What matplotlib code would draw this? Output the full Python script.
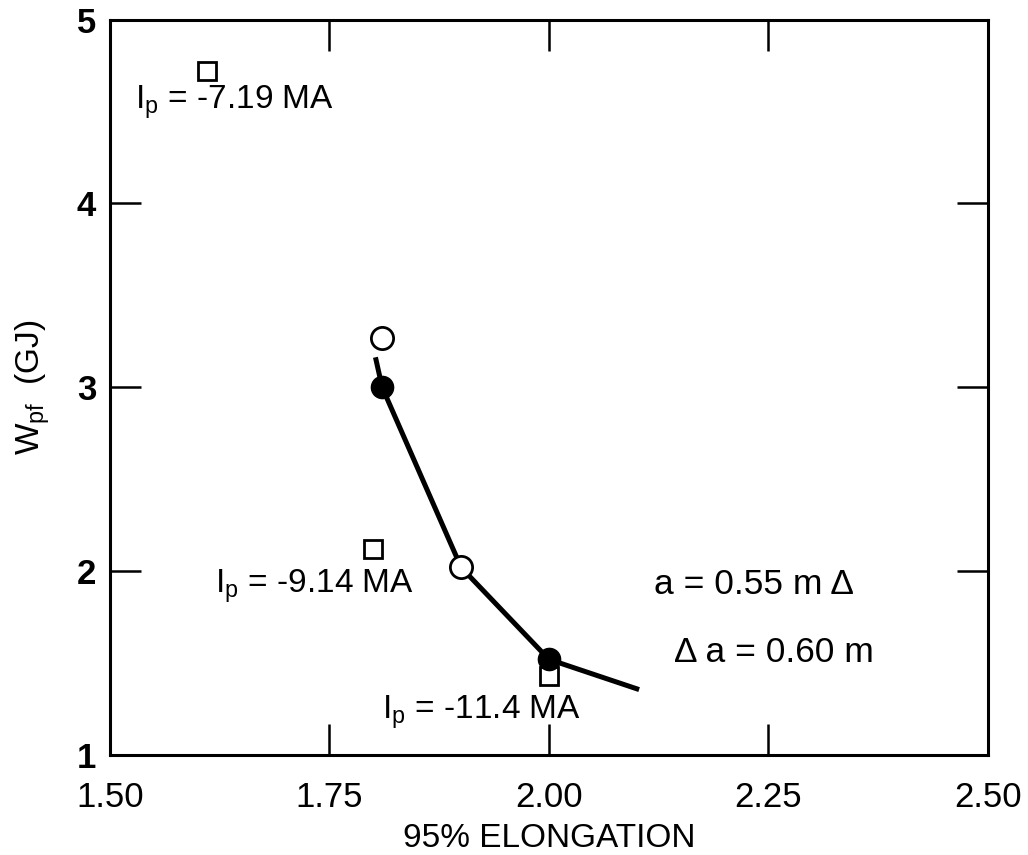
import matplotlib
matplotlib.use('Agg')
import matplotlib.pyplot as plt

plt.rcParams['font.family'] = ['Liberation Sans', 'DejaVu Sans']
plt.rcParams['mathtext.fontset'] = 'custom'
plt.rcParams['mathtext.rm'] = 'Liberation Sans'
plt.rcParams['mathtext.it'] = 'Liberation Sans'

# squares: fixed-shape points labelled by plasma current
sq_x = [1.61, 1.80, 2.00]
sq_y = [4.72, 2.12, 1.43]
sq_labels = ['I$_\\mathrm{p}$ = -7.19 MA', 'I$_\\mathrm{p}$ = -9.14 MA', 'I$_\\mathrm{p}$ = -11.4 MA']
lab_x = [1.528, 1.62, 1.81]
lab_y = [4.55, 1.92, 1.23]

# curve through the scan
line_x = [1.803, 1.81, 1.90, 2.00, 2.10]
line_y = [3.15, 3.00, 2.02, 1.52, 1.36]

open_x = [1.81, 1.90]
open_y = [3.27, 2.02]
filled_x = [1.81, 2.00]
filled_y = [3.00, 1.52]

fig = plt.figure(figsize=(10.28, 8.55), dpi=100)
ax = fig.add_axes([0.107, 0.117, 0.854, 0.860])

ax.plot(sq_x, sq_y, 's', ms=13, mfc='white', mec='black', mew=2, zorder=2)
ax.plot(line_x, line_y, '-', color='black', lw=3.6, zorder=3)
ax.plot(open_x, open_y, 'o', ms=16, mfc='white', mec='black', mew=2, zorder=4)
ax.plot(filled_x, filled_y, 'o', ms=16, mfc='black', mec='black', zorder=4)

for tx, ty, s in zip(lab_x, lab_y, sq_labels):
    ax.text(tx, ty, s, fontsize=24, ha='left', va='center')

ax.text(2.12, 1.93, 'a = 0.55 m \u0394', fontsize=25.5, ha='left', va='center')
ax.text(2.143, 1.56, '\u0394 a = 0.60 m', fontsize=25.5, ha='left', va='center')

ax.set_xlim(1.5, 2.5)
ax.set_ylim(1, 5)
ax.set_xticks([1.5, 1.75, 2.0, 2.25, 2.5])
ax.set_xticklabels(['1.50', '1.75', '2.00', '2.25', '2.50'])
ax.set_yticks([1, 2, 3, 4, 5])
ax.set_yticklabels(['1', '2', '3', '4', '5'], fontweight='bold')
ax.tick_params(direction='in', length=22, width=1.8, labelsize=25,
               top=True, right=True)
ax.tick_params(axis='x', pad=19)
ax.tick_params(axis='y', pad=10)
for sp in ax.spines.values():
    sp.set_linewidth(2.2)

ax.set_xlabel('95% ELONGATION', fontsize=24, labelpad=6)
ax.set_ylabel('W$_\\mathrm{pf}$  (GJ)', fontsize=24, labelpad=18)

fig.savefig('out.png', dpi=100)
